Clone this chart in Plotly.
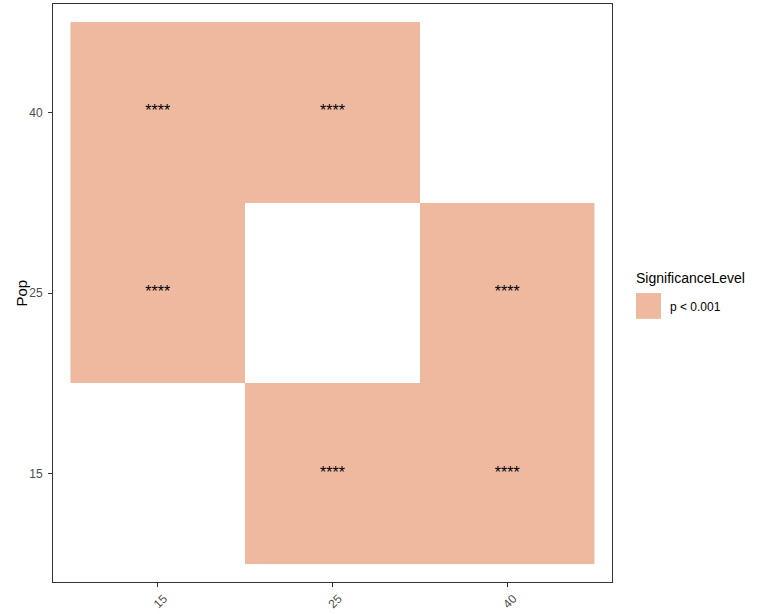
import plotly.graph_objects as go

x_cats = ["15", "25", "40"]
y_cats = ["15", "25", "40"]
# significant pairs (x, y)
pair_x = ["15", "25", "15", "40", "25", "40"]
pair_y = ["40", "40", "25", "25", "15", "15"]
pair_label = ["****", "****", "****", "****", "****", "****"]
level_name = "p < 0.001"
legend_title = "SignificanceLevel"
y_title = "Pop"
fill_color = "#EFB9A0"

# build z grid from the pairs
z = [[None for _ in x_cats] for _ in y_cats]
for px, py in zip(pair_x, pair_y):
    z[y_cats.index(py)][x_cats.index(px)] = 1

FONT = "Liberation Sans, Arial"

fig = go.Figure()
fig.add_trace(go.Heatmap(
    x=x_cats, y=y_cats, z=z,
    colorscale=[[0, fill_color], [1, fill_color]],
    showscale=False, hoverinfo="skip", xgap=0, ygap=0,
))
fig.add_trace(go.Scatter(
    x=pair_x, y=pair_y, mode="text", text=pair_label,
    textfont=dict(family=FONT, size=16, color="black"),
    showlegend=False, hoverinfo="skip",
))

axis_common = dict(
    type="category", showgrid=False, zeroline=False,
    showline=True, mirror=True, linecolor="#333333", linewidth=1,
    ticks="outside", ticklen=4, tickcolor="#333333",
    tickfont=dict(family=FONT, size=12, color="#4D4D4D"),
)
fig.update_layout(
    width=780, height=614,
    margin=dict(l=53, r=168, t=3, b=31),
    paper_bgcolor="white", plot_bgcolor="white",
    font=dict(family=FONT, color="black"),
    showlegend=False,
    xaxis=dict(**axis_common, categoryorder="array", categoryarray=x_cats,
               range=[-0.6, 2.6], tickangle=-45, ticklabelshift=6),
    yaxis=dict(**axis_common, categoryorder="array", categoryarray=y_cats,
               range=[-0.6, 2.6], ticklabelstandoff=3),
)

# y axis title
fig.add_annotation(text=y_title, xref="paper", yref="paper",
                   x=-0.0564, y=0.5, xanchor="center", yanchor="middle",
                   textangle=-90, showarrow=False,
                   font=dict(family=FONT, size=15, color="black"))

# legend (drawn as key + texts in paper coordinates)
fig.add_shape(type="rect", xref="paper", yref="paper",
              x0=1.0429, x1=1.0877, y0=0.4552, y1=0.5,
              fillcolor=fill_color, line=dict(width=0))
fig.add_annotation(text=legend_title, xref="paper", yref="paper",
                   x=1.0400, y=0.5259, xanchor="left", yanchor="middle",
                   showarrow=False, font=dict(family=FONT, size=14, color="black"))
fig.add_annotation(text=level_name, xref="paper", yref="paper",
                   x=1.100, y=0.4759, xanchor="left", yanchor="middle",
                   showarrow=False, font=dict(family=FONT, size=12, color="black"))

fig.write_html("out.html", config={"displayModeBar": False},
               post_script="document.body.style.margin='0px';")
